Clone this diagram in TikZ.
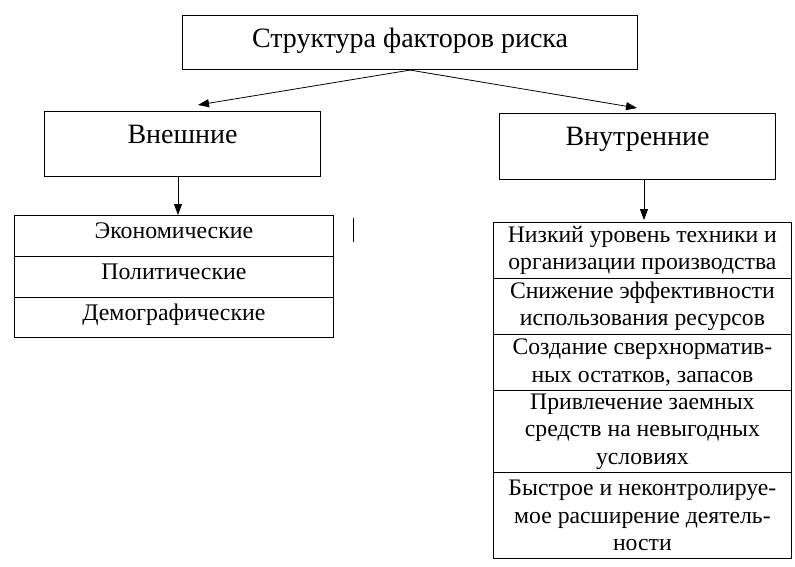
\documentclass[tikz,border=0pt]{standalone}
\usepackage{fontspec}
\setmainfont{Liberation Serif}
\usetikzlibrary{arrows.meta}
\begin{document}
\begin{tikzpicture}[x=1pt,y=-1pt,
  box/.style={draw,line width=1.1pt,inner sep=0pt,anchor=north west},
  cell/.style={draw,line width=0.8pt,inner sep=0pt,anchor=north west,align=center},
  arr/.style={line width=0.8pt,-{Triangle[length=11pt,width=8pt]}},
  big/.style={font=\fontsize{28}{32}\selectfont},
  mid/.style={font=\fontsize{28}{32}\selectfont},
  small/.style={font=\fontsize{23.8}{27}\selectfont},
  rt/.style={font=\fontsize{23.7}{27.5}\selectfont}
]
\useasboundingbox (0,0) rectangle (795,567);
\node[box,big,minimum width=455pt,text height=32pt,text depth=22pt] (title) at (182,15) {Структура факторов риска};
\node[box,mid,minimum width=276pt,text height=32pt,text depth=33pt] (ext) at (44,111) {Внешние};
\node[box,mid,minimum width=276pt,text height=32pt,text depth=34pt] (int) at (499,113) {Внутренние};
% left list
\node[cell,small,minimum width=319pt,text height=23pt,text depth=18pt] (e1) at (14,215) {Экономические};
\node[cell,small,minimum width=319pt,text height=23pt,text depth=18pt] (e2) at (14,256) {Политические};
\node[cell,small,minimum width=319pt,text height=23pt,text depth=17pt] (e3) at (14,297) {Демографические};
% right list
\node[cell,rt,minimum width=298pt,minimum height=56pt] (i1) at (493,222) {Низкий уровень техники и\\организации производства};
\node[cell,rt,minimum width=298pt,minimum height=56pt] (i2) at (493,278) {Снижение эффективности\\использования ресурсов};
\node[cell,rt,minimum width=298pt,minimum height=56pt] (i3) at (493,334) {Создание сверхнорматив-\\ных остатков, запасов};
\node[cell,rt,minimum width=298pt,minimum height=82pt] (i4) at (493,390) {Привлечение заемных\\средств на невыгодных\\условиях};
\node[cell,rt,minimum width=298pt,minimum height=86pt] (i5) at (493,472) {Быстрое и неконтролируе-\\мое расширение деятель-\\ности};
% connectors
\coordinate (tl) at (198,105);
\coordinate (tr) at (637,108);
\draw[arr] (title.south) -- (tl);
\draw[arr] (title.south) -- (tr);
\coordinate (ea) at (178,176);
\coordinate (eb) at (178,215);
\draw[arr] (ea) -- (eb);
\coordinate (ia) at (644,179);
\coordinate (ib) at (644,220);
\draw[arr] (ia) -- (ib);
% stray mark
\draw[line width=0.8pt] (353,218) -- (353,242);
\end{tikzpicture}
\end{document}
